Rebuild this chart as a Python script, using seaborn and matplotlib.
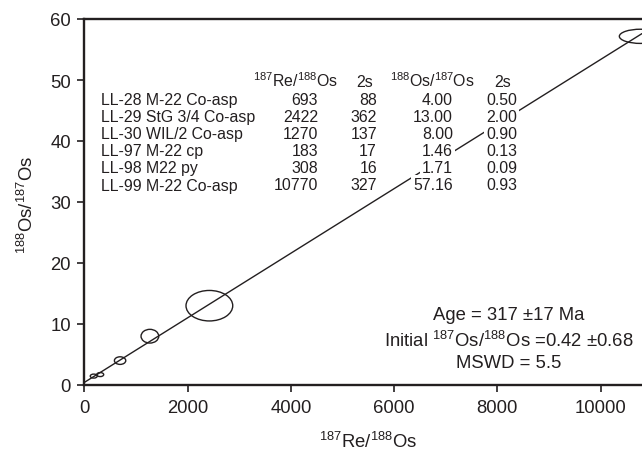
import numpy as np
import pandas as pd
import matplotlib
matplotlib.use("Agg")
import matplotlib.pyplot as plt
from matplotlib.patches import Ellipse
import seaborn as sns

# Re-Os isochron data
samples = ["LL-28 M-22 Co-asp", "LL-29 StG 3/4 Co-asp", "LL-30 WIL/2 Co-asp",
           "LL-97 M-22 cp", "LL-98 M22 py", "LL-99 M-22 Co-asp"]
re_os = [693, 2422, 1270, 183, 308, 10770]
re_os_2s = [88, 362, 137, 17, 16, 327]
os_os = [4.00, 13.00, 8.00, 1.46, 1.71, 57.16]
os_os_2s = [0.50, 2.00, 0.90, 0.13, 0.09, 0.93]

age_ma, age_err = 317, 17
initial, initial_err = 0.42, 0.68
mswd = 5.5
lam_re = 1.666e-11

x_ticks = [0, 2000, 4000, 6000, 8000, 10000]
y_ticks = [0, 10, 20, 30, 40, 50, 60]

d = pd.DataFrame({"sample": samples, "re_os": re_os, "re_os_2s": re_os_2s,
                  "os_os": os_os, "os_os_2s": os_os_2s})

sns.set_style("ticks")
plt.rcParams["font.family"] = ["Liberation Sans", "DejaVu Sans"]
plt.rcParams["mathtext.fontset"] = "custom"
plt.rcParams["mathtext.rm"] = "Liberation Sans"
plt.rcParams["mathtext.it"] = "Liberation Sans:italic"
plt.rcParams["mathtext.default"] = "regular"

ink = "#231f20"
W, H = 642, 452

fig = plt.figure(figsize=(W / 100, H / 100), dpi=100)
ax_w, ax_h = W - 84.3, 366
ax = fig.add_axes([84.3 / W, 66 / H, ax_w / W, ax_h / H])
xmax, ymax = 10800, 60
ax.set_xlim(0, xmax)
ax.set_ylim(0, ymax)

# isochron line
slope = np.expm1(lam_re * age_ma * 1e6)
line_x = np.array([0, xmax])
sns.lineplot(x=line_x, y=initial + slope * line_x, ax=ax, color=ink, lw=1.0, zorder=2)

# 2-sigma error ellipses (95% 2D confidence), with a minimum drawn size
k = 1.25
min_w = 7 * xmax / ax_w
min_h = 4 * ymax / ax_h
for _, r in d.iterrows():
    w = max(2 * k * r.re_os_2s, min_w)
    h = max(2 * k * r.os_os_2s, min_h)
    ax.add_patch(Ellipse((r.re_os, r.os_os), w, h,
                         fill=False, ec=ink, lw=1.0, zorder=3))

ax.set_xticks(x_ticks)
ax.set_yticks(y_ticks)
ax.tick_params(axis="both", direction="out", length=5, width=1.2, color=ink,
               labelsize=13.3, labelcolor=ink)
ax.tick_params(axis="x", pad=5)
ax.tick_params(axis="y", pad=4.5)
for s in ["left", "bottom", "top"]:
    ax.spines[s].set_linewidth(1.7)
    ax.spines[s].set_color(ink)
ax.spines["right"].set_visible(False)

ax.set_xlabel("$^{187}$Re/$^{188}$Os", fontsize=13.3, color=ink)
ax.xaxis.set_label_coords((368 - 84.3) / ax_w, (386 - 448) / ax_h)
ax.xaxis.label.set_va("baseline")
ax.set_ylabel("$^{188}$Os/$^{187}$Os", fontsize=13.3, color=ink)
ax.yaxis.set_label_coords((33 - 84.3) / ax_w, (386 - 205) / ax_h)
ax.yaxis.label.set_va("baseline")


def ftext(px, py, s, size=11.4, ha="left", box=True):
    x, y = px / W, 1 - py / H
    if box:
        # white mask behind the cell, drawn under all the table text
        fig.text(x, y, s, fontsize=size, ha=ha, va="baseline", color="none",
                 bbox=dict(boxstyle="square,pad=0.15", fc="white", ec="none"),
                 zorder=4)
    fig.text(x, y, s, fontsize=size, ha=ha, va="baseline", color=ink, zorder=5)


# table header
hy = 87
ftext(338, hy, "$^{187}$Re/$^{188}$Os", ha="right")
ftext(373, hy, "2s", ha="right")
ftext(475, hy, "$^{188}$Os/$^{187}$Os", ha="right")
ftext(511, hy, "2s", ha="right")

# table rows
for i, r in d.iterrows():
    y = 105 + 17.1 * i
    ftext(100.7, y, r["sample"])
    ftext(318, y, f"{r.re_os:d}", ha="right")
    ftext(377, y, f"{r.re_os_2s:d}", ha="right")
    ftext(453, y, f"{r.os_os:.2f}", ha="right")
    ftext(517, y, f"{r.os_os_2s:.2f}", ha="right")

# isochron result
ftext(509, 320, f"Age = {age_ma} ±{age_err} Ma", size=13.3, ha="center", box=False)
ftext(509, 347, f"Initial $^{{187}}$Os/$^{{188}}$Os ={initial:.2f} ±{initial_err:.2f}",
      size=13.3, ha="center", box=False)
ftext(509, 368, f"MSWD = {mswd}", size=13.3, ha="center", box=False)

fig.savefig("out.png", dpi=100)
